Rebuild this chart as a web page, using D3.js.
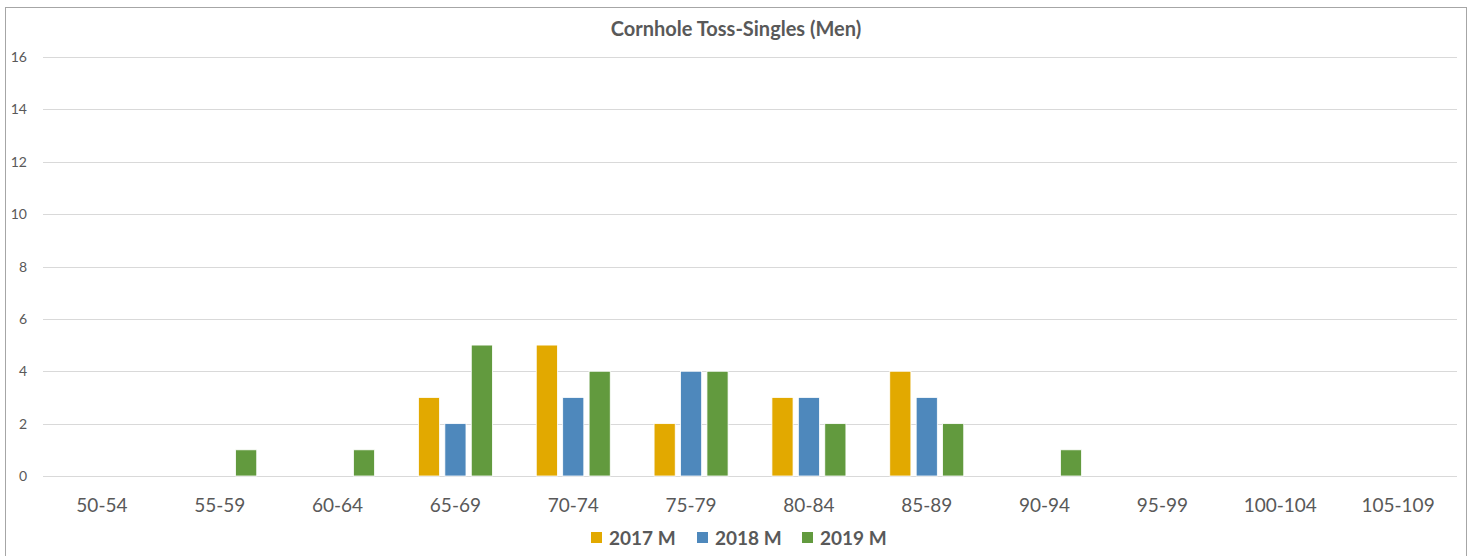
<!DOCTYPE html>
<html>
<head>
<meta charset="utf-8">
<script src="https://cdn.jsdelivr.net/npm/d3@7"></script>
<style>
  body { margin: 0; background: #fff; }
  svg { display: block; font-family: Lato, "Liberation Sans", sans-serif; }
</style>
</head>
<body>
<div id="chart"></div>
<script>
const categories = ["50-54", "55-59", "60-64", "65-69", "70-74", "75-79", "80-84", "85-89", "90-94", "95-99", "100-104", "105-109"];
const seriesNames = ["2017 M", "2018 M", "2019 M"];
const values2017 = [0, 0, 0, 3, 5, 2, 3, 4, 0, 0, 0, 0];
const values2018 = [0, 0, 0, 2, 3, 4, 3, 3, 0, 0, 0, 0];
const values2019 = [0, 1, 1, 5, 4, 4, 2, 2, 1, 0, 0, 0];
const yTicks = [0, 2, 4, 6, 8, 10, 12, 14, 16];
const colors = ["#E2A900", "#4E88BC", "#629A3E"];

const W = 1472, H = 556;
const margin = { left: 43, right: 15, top: 57, bottom: 80 };

const svg = d3.select("#chart").append("svg")
  .attr("width", W)
  .attr("height", H);

// chart frame
svg.append("rect")
  .attr("x", 5.5).attr("y", 7.5)
  .attr("width", 1461).attr("height", 560)
  .attr("fill", "#fff")
  .attr("stroke", "#a6a6a6");

svg.append("text")
  .attr("x", 736).attr("y", 36)
  .attr("text-anchor", "middle")
  .attr("font-size", 20)
  .attr("font-weight", "bold")
  .attr("fill", "#595959")
  .text("Cornhole Toss-Singles (Men)");

const x = d3.scaleBand()
  .domain(categories)
  .range([margin.left, W - margin.right])
  .paddingInner(0)
  .paddingOuter(0);

const y = d3.scaleLinear()
  .domain([0, 16])
  .range([476, 57]);

// gridlines
svg.append("g")
  .selectAll("line")
  .data(yTicks)
  .join("line")
  .attr("x1", margin.left).attr("x2", W - margin.right)
  .attr("y1", d => Math.round(y(d)) + 0.5)
  .attr("y2", d => Math.round(y(d)) + 0.5)
  .attr("stroke", "#d9d9d9")
  .attr("stroke-width", 1);

// y labels
svg.append("g")
  .selectAll("text")
  .data(yTicks)
  .join("text")
  .attr("x", 27)
  .attr("y", d => y(d) + 5)
  .attr("text-anchor", "end")
  .attr("font-size", 14)
  .attr("fill", "#595959")
  .text(d => d);

// x labels
svg.append("g")
  .selectAll("text")
  .data(categories)
  .join("text")
  .attr("x", d => x(d) + x.bandwidth() / 2)
  .attr("y", 512)
  .attr("text-anchor", "middle")
  .attr("font-size", 19)
  .attr("fill", "#595959")
  .text(d => d);

const series = [values2017, values2018, values2019];
const inner = d3.scaleBand()
  .domain(d3.range(series.length))
  .range([-37, 37])
  .paddingInner(0.2);

series.forEach((vals, si) => {
  svg.append("g")
    .selectAll("rect")
    .data(vals.map((v, i) => ({ cat: categories[i], v })).filter(d => d.v > 0))
    .join("rect")
    .attr("x", d => x(d.cat) + x.bandwidth() / 2 + inner(si))
    .attr("y", d => y(d.v))
    .attr("width", inner.bandwidth())
    .attr("height", d => y(0) - y(d.v))
    .attr("fill", colors[si])
    .attr("stroke", "#fff")
    .attr("stroke-width", 0.8);
});

// legend
const legendX = [591, 697, 802];
const legend = svg.append("g");
seriesNames.forEach((name, i) => {
  legend.append("rect")
    .attr("x", legendX[i]).attr("y", 532)
    .attr("width", 11).attr("height", 11)
    .attr("fill", colors[i]);
  legend.append("text")
    .attr("x", legendX[i] + 18).attr("y", 545)
    .attr("font-size", 19)
    .attr("font-weight", "bold")
    .attr("fill", "#595959")
    .text(name);
});
</script>
</body>
</html>
